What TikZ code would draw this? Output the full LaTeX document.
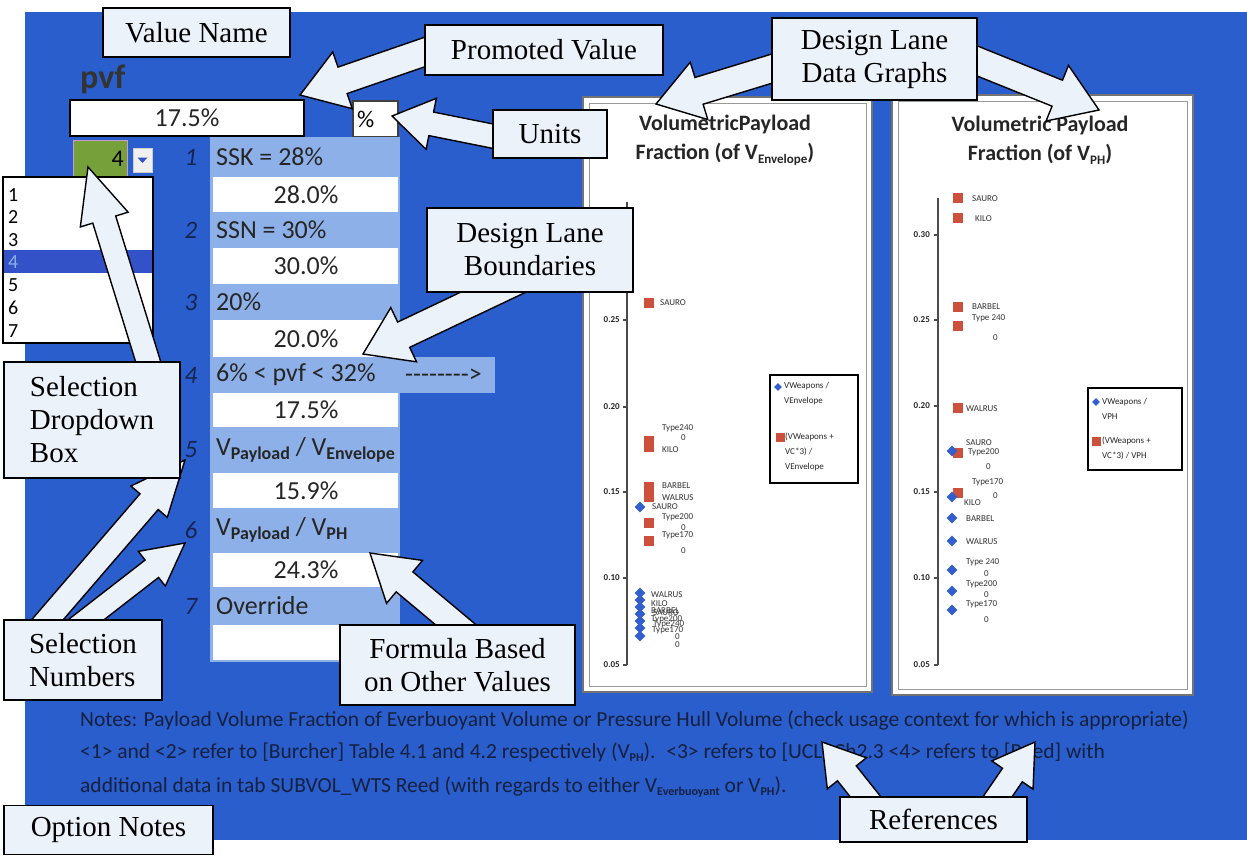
\documentclass[tikz,border=0pt]{standalone}
\usepackage{fontspec}
\setmainfont{Liberation Serif}
\newfontfamily\calfont{Carlito}
\usetikzlibrary{calc,shapes.geometric}
\definecolor{bgblue}{RGB}{41,94,204}
\definecolor{rowblue}{RGB}{141,176,232}
\definecolor{callfill}{RGB}{236,242,250}
\definecolor{selgreen}{RGB}{118,160,58}
\definecolor{listsel}{RGB}{51,82,200}
\definecolor{mred}{RGB}{205,80,60}
\definecolor{mblue}{RGB}{50,95,205}
\definecolor{notetext}{RGB}{22,32,64}
\definecolor{numtext}{RGB}{25,35,80}
\newcommand\fs[2]{\fontsize{#1}{#2}\selectfont}
\newcommand\sbs[2]{\raisebox{-0.35ex}{\bfseries\fs{#1}{#1}#2}}
\newcommand\blockarrow[5]{%
  \coordinate (ba-c) at ($(#2)!#5!(#1)$);
  \draw[callarrow] ($(#1)!#3!90:(#2)$) -- ($(ba-c)!#3!90:(#2)$) -- ($(ba-c)!#4!90:(#2)$) -- (#2)
     -- ($(ba-c)!#4!-90:(#2)$) -- ($(ba-c)!#3!-90:(#2)$) -- ($(#1)!#3!-90:(#2)$) -- cycle;}
\tikzset{
  callout/.style={draw=black, line width=1.4, fill=callfill, font=\fs{29}{33}, align=center, inner sep=0},
  callarrow/.style={draw=black, line width=1.4, fill=callfill, line join=miter},
  hdr/.style={anchor=west, font=\calfont\fs{26}{26}, inner sep=0, text=black!85},
  val/.style={font=\calfont\fs{26}{26}, inner sep=0, text=black!85},
  rnum/.style={font=\calfont\itshape\fs{25}{25}, text=numtext, inner sep=0},
  litem/.style={anchor=west, font=\calfont\fs{20}{20}, inner sep=0},
  lbl/.style={anchor=west, font=\calfont\fs{9}{9}, inner sep=0, text=black!80},
  tick/.style={anchor=east, font=\calfont\bfseries\fs{9}{9}, inner sep=0, text=black!85},
  ctitle/.style={font=\calfont\bfseries\fs{22}{29}, align=center, inner sep=0, text=black!85},
  legtxt/.style={anchor=west, font=\calfont\fs{9}{15}, align=left, inner sep=0, text=black!85},
  redsq/.style={rectangle, fill=mred, minimum size=10, inner sep=0},
  bdia/.style={diamond, fill=mblue, minimum size=11, inner sep=0},
  notes/.style={anchor=west, font=\calfont\fs{21.5}{21.5}, inner sep=0, text=notetext},
  chartframe/.style={draw=black!55, line width=1.5, fill=white, inner sep=0}
}
\begin{document}
\begin{tikzpicture}[x=1pt,y=-1pt]
\useasboundingbox (0,0) rectangle (1247,855);
\fill[white] (0,0) rectangle (1247,855);
\fill[bgblue] (25,12) rectangle (1247,840);

% ---------- value name / promoted value ----------
\node[anchor=west, font=\calfont\bfseries\fs{34}{34}, text=black!80, inner sep=0] (pvf) at (80,79) {pvf};
\node[draw=black, line width=2.5, fill=white, minimum width=234, minimum height=36, val] (pval) at (187,118) {17.5\%};
\node[draw=black!75, line width=1.5, fill=white, minimum width=45, minimum height=36, inner sep=0] (unitbox) at (375.5,119) {};
\node[anchor=west, font=\calfont\fs{24}{24}, inner sep=0] (unittxt) at (357,119) {\%};

% ---------- dropdown ----------
\node[fill=selgreen, draw=violet!40, line width=1, minimum width=54, minimum height=36, inner sep=0] (dd) at (100,158) {};
\node[anchor=east, font=\calfont\fs{24}{24}, inner sep=0] (ddv) at (124,159) {4};
\node[fill=gray!12, draw=gray!40, minimum width=19, minimum height=24, inner sep=0] (ddbtn) at (142.5,160) {};
\fill[listsel] (137.5,157.5) -- (147.5,157.5) -- (142.5,163) -- cycle;
\node[draw=black, line width=1.5, fill=white, minimum width=150, minimum height=166, inner sep=0] (ddlist) at (78,260) {};
\fill[listsel] (4,250) rectangle (152,273);
\foreach \i/\y in {1/195,2/217,3/240,5/285,6/308,7/331}
  \node[litem] (li\i) at (8,\y) {\i};
\node[litem, text=rowblue] (li4) at (8,262) {4};

% ---------- option rows ----------
\fill[rowblue] (210,137) rectangle (400,662);
\fill[rowblue] (400,357) rectangle (495,393);
\foreach \t/\b in {177/212,248/284,320/357,393/427,473/508,553/587,625/660}
  \fill[white] (213,\t) rectangle (398,\b);
\foreach \i/\y in {1/157,2/230,3/302,4/375,5/450,6/530,7/606}
  \node[rnum] (rn\i) at (191,\y) {\i};
\node[hdr] (h1) at (216,157) {SSK = 28\%};
\node[hdr] (h2) at (216,230) {SSN = 30\%};
\node[hdr] (h3) at (216,302) {20\%};
\node[hdr] (h4) at (216,375) {6\% < pvf < 32\%};
\node[hdr] (h4b) at (405,376) {-{}-{}-{}-{}-{}-{}-{}-{}>};
\node[hdr] (h5) at (216,450) {V\sbs{18}{Payload} / V\sbs{18}{Envelope}};
\node[hdr] (h6) at (216,530) {V\sbs{18}{Payload} / V\sbs{18}{PH}};
\node[hdr] (h7) at (216,606) {Override};
\node[val] (v1) at (306,195) {28.0\%};
\node[val] (v2) at (306,266) {30.0\%};
\node[val] (v3) at (306,339) {20.0\%};
\node[val] (v4) at (306,410) {17.5\%};
\node[val] (v5) at (306,491) {15.9\%};
\node[val] (v6) at (306,570) {24.3\%};

% ---------- left chart ----------
\node[chartframe, minimum width=289, minimum height=595] (chL) at (727.5,394.5) {};
\draw[black!40, line width=1] (589,103) rectangle (866,686);
\node[ctitle] (tL) at (725,140) {VolumetricPayload\\Fraction (of V\sbs{13}{Envelope})};
\draw[black!70, line width=1.2] (627,202) -- (627,665);
\foreach \v/\y in {0.05/665,0.10/578,0.15/492,0.20/407,0.25/320}{
  \draw[black!70, line width=1.2] (623,\y) -- (627,\y);
  \node[tick] (tkL\y) at (620,\y) {\v};}
\foreach \y in {303,441,447,487,497,523,541}
  \node[redsq] (rL\y) at (649,\y) {};
\foreach \y in {507,593,600,607,614,621,628,636}
  \node[bdia] (bL\y) at (640,\y) {};
\node[lbl] (a1) at (660,303) {SAURO};
\node[lbl] (a2) at (662,428) {Type240};
\node[lbl] (a3) at (681,438) {0};
\node[lbl] (a4) at (662,450) {KILO};
\node[lbl] (a5) at (662,486) {BARBEL};
\node[lbl] (a6) at (662,498) {WALRUS};
\node[lbl] (a7) at (652,507) {SAURO};
\node[lbl] (a8) at (662,517) {Type200};
\node[lbl] (a9) at (681,528) {0};
\node[lbl] (a10) at (662,535) {Type170};
\node[lbl] (a11) at (681,551) {0};
\node[lbl] (a12) at (651,595) {WALRUS};
\node[lbl] (a13) at (651,604) {KILO};
\node[lbl] (a14) at (651,611) {BARBEL};
\node[lbl] (a15) at (653,613) {SAURO};
\node[lbl] (a16) at (651,619) {Type200};
\node[lbl] (a17) at (653,624) {Type240};
\node[lbl] (a18) at (652,630) {Type170};
\node[lbl] (a19) at (675,637) {0};
\node[lbl] (a20) at (675,645) {0};
\node[draw=black, line width=1.5, fill=white, minimum width=88, minimum height=108, inner sep=0] (legL) at (814,429) {};
\node[bdia, minimum size=8] (legLb) at (778,387) {};
\node[legtxt] (legL1) at (784,394) {VWeapons /\\VEnvelope};
\node[redsq, minimum size=9] (legLr) at (780,437) {};
\node[legtxt] (legL2) at (785,452) {(VWeapons +\\VC*3) /\\VEnvelope};

% ---------- right chart ----------
\node[chartframe, minimum width=301, minimum height=600] (chR) at (1042.5,395) {};
\draw[black!40, line width=1] (898,101) rectangle (1187,689);
\node[ctitle] (tR) at (1040,140) {Volumetric Payload\\Fraction (of V\sbs{13}{PH})};
\draw[black!70, line width=1.2] (938,198) -- (938,665);
\foreach \v/\y in {0.05/665,0.10/578,0.15/492,0.20/406,0.25/320,0.30/235}{
  \draw[black!70, line width=1.2] (934,\y) -- (938,\y);
  \node[tick] (tkR\y) at (930,\y) {\v};}
\foreach \y in {198,218,307,326,408,453,493}
  \node[redsq] (rR\y) at (958,\y) {};
\foreach \y in {451,497,518,541,570,591,610}
  \node[bdia] (bR\y) at (952,\y) {};
\node[lbl] (b1) at (972,199) {SAURO};
\node[lbl] (b2) at (975,219) {KILO};
\node[lbl] (b3) at (972,307) {BARBEL};
\node[lbl] (b4) at (972,318) {Type 240};
\node[lbl] (b5) at (993,338) {0};
\node[lbl] (b6) at (966,409) {WALRUS};
\node[lbl] (b7) at (966,443) {SAURO};
\node[lbl] (b8) at (968,452) {Type200};
\node[lbl] (b9) at (986,467) {0};
\node[lbl] (b10) at (972,482) {Type170};
\node[lbl] (b11) at (993,496) {0};
\node[lbl] (b12) at (964,503) {KILO};
\node[lbl] (b13) at (966,519) {BARBEL};
\node[lbl] (b14) at (966,542) {WALRUS};
\node[lbl] (b15) at (966,562) {Type 240};
\node[lbl] (b16) at (984,574) {0};
\node[lbl] (b17) at (966,584) {Type200};
\node[lbl] (b18) at (984,595) {0};
\node[lbl] (b19) at (966,604) {Type170};
\node[lbl] (b20) at (984,620) {0};
\node[draw=black, line width=1.5, fill=white, minimum width=94, minimum height=82, inner sep=0] (legR) at (1135,429) {};
\node[bdia, minimum size=8] (legRb) at (1096,402) {};
\node[legtxt] (legR1) at (1102,409) {VWeapons /\\VPH};
\node[redsq, minimum size=9] (legRr) at (1096,441) {};
\node[legtxt] (legR2) at (1102,448) {(VWeapons +\\VC*3) / VPH};

% ---------- notes ----------
\node[notes] (n1) at (80,720) {Notes: Payload Volume Fraction of Everbuoyant Volume or Pressure Hull Volume (check usage context for which is appropriate)};
\node[notes] (n2) at (80,752) {<1> and <2> refer to [Burcher] Table 4.1 and 4.2 respectively (V\sbs{12}{PH}).\enspace <3> refers to [UCL] Ch2.3 <4> refers to [Reed] with};
\node[notes] (n3) at (80,787) {additional data in tab SUBVOL\_WTS Reed (with regards to either V\sbs{12}{Everbuoyant} or V\sbs{12}{PH}).};

% ---------- arrows ----------
\coordinate (pvT) at (445,45);   \coordinate (pvH) at (300,95);
\coordinate (unT) at (512,140);  \coordinate (unH) at (392,116);
\coordinate (dgT1) at (800,60);  \coordinate (dgH1) at (656,104);
\coordinate (dgT2) at (950,50);  \coordinate (dgH2) at (1099,110);
\coordinate (dbT) at (540,270);  \coordinate (dbH) at (363,354);
\coordinate (sdT) at (160,400);  \coordinate (sdH) at (88,167);
\coordinate (snT1) at (30,640);  \coordinate (snH1) at (185,460);
\coordinate (snT2) at (60,640);  \coordinate (snH2) at (185,543);
\coordinate (fbT) at (480,645);  \coordinate (fbH) at (370,553);
\coordinate (rfT1) at (880,815); \coordinate (rfH1) at (822,742);
\coordinate (rfT2) at (985,815); \coordinate (rfH2) at (1035,742);
\blockarrow{pvT}{pvH}{14pt}{30pt}{45pt}
\blockarrow{unT}{unH}{12pt}{26pt}{40pt}
\blockarrow{dgT1}{dgH1}{14pt}{30pt}{45pt}
\blockarrow{dgT2}{dgH2}{14pt}{30pt}{45pt}
\blockarrow{dbT}{dbH}{14pt}{30pt}{45pt}
\blockarrow{sdT}{sdH}{12pt}{25pt}{55pt}
\blockarrow{snT1}{snH1}{12pt}{24pt}{55pt}
\blockarrow{snT2}{snH2}{11pt}{22pt}{42pt}
\blockarrow{fbT}{fbH}{13pt}{28pt}{45pt}
\blockarrow{rfT1}{rfH1}{12pt}{25pt}{40pt}
\blockarrow{rfT2}{rfH2}{12pt}{25pt}{40pt}

% ---------- callouts ----------
\node[callout, minimum width=187, minimum height=49] (cVN) at (196.5,32.5) {Value Name};
\node[callout, minimum width=238, minimum height=50] (cPV) at (544,50) {Promoted Value};
\node[callout, minimum width=114, minimum height=48] (cUN) at (550,134) {Units};
\node[callout, minimum width=205, minimum height=82] (cDG) at (874.5,59) {Design Lane\\Data Graphs};
\node[callout, minimum width=206, minimum height=84] (cDB) at (530,250) {Design Lane\\Boundaries};
\node[callout, minimum width=176, minimum height=116, align=left] (cSD) at (92,420) {Selection\\Dropdown\\Box};
\node[callout, minimum width=158, minimum height=80, align=left] (cSN) at (83,660) {Selection\\Numbers};
\node[callout, minimum width=235, minimum height=80] (cFB) at (457.5,665) {Formula Based\\on Other Values};
\node[callout, minimum width=209, minimum height=49] (cON) at (108.5,830) {Option Notes};
\node[callout, minimum width=187, minimum height=45] (cRF) at (933.5,819.5) {References};
\end{tikzpicture}
\end{document}
